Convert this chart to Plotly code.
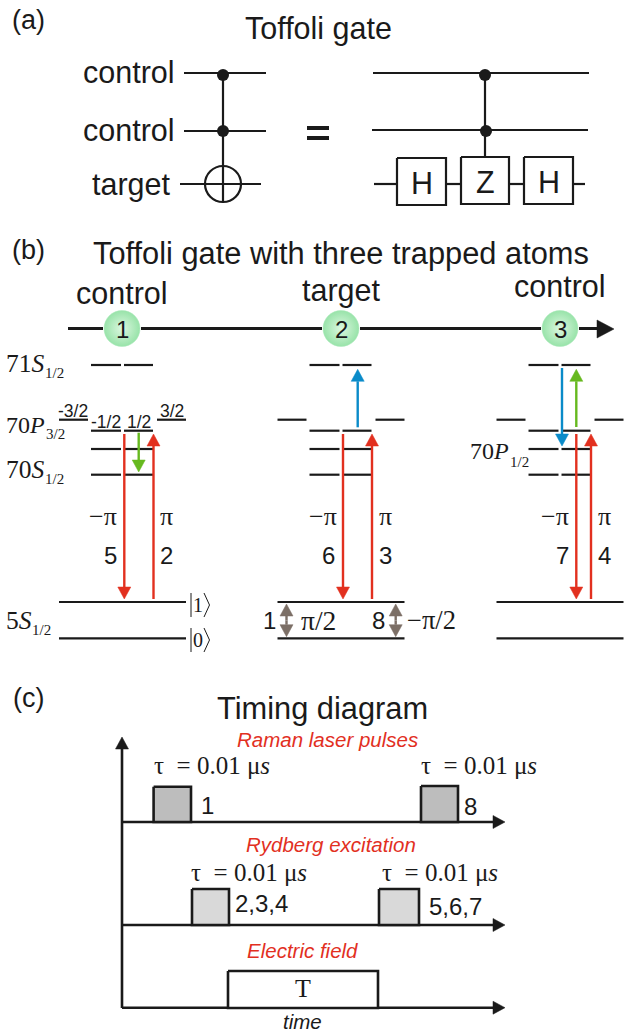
import plotly.graph_objects as go

W, H = 625, 1034
BLACK = "#1a1a1a"; RED = "#e2301f"; GREEN = "#66b91f"; BLUE = "#0a8bc9"; BROWN = "#7c6f66"
SANS = "Liberation Sans"; SERIF = "Liberation Serif"

# ---------- panel (a) ----------
circuit_lines = [  # x0, y0, x1, y1
    (184, 73, 266, 73), (184, 131, 266, 131), (180, 184, 261, 184),
    (223, 73, 223, 166), (223, 166, 223, 202), (205, 184, 241, 184),
    (373, 73, 589, 73), (372, 130, 588, 130), (485, 73, 485, 157),
    (374, 184, 397, 184), (446, 184, 461, 184), (509, 184, 524, 184), (573, 184, 585, 184),
]
equals_lines = [(307, 128, 329, 128), (307, 138, 329, 138)]
circuit_dots_x = [223, 223, 485, 486]
circuit_dots_y = [75, 131, 75, 131]
xor_circle = (223, 184, 18)
gate_boxes = [(397, 158, 446, 205), (461, 157, 509, 204), (524, 157, 573, 204)]
gate_labels = ["H", "Z", "H"]

# ---------- panel (b) ----------
atom_line_segments = [(68, 103), (141, 322), (360, 541), (579, 600)]
atom_line_y = 328.5
atom_arrow_tip = (614, 329)
atom_x = [122, 341, 560]
atom_labels = ["1", "2", "3"]
atom_offsets = [0, 218.5, 437.5]
inner_levels_y = [365, 430.7, 449, 474.7]
outer_level_y = 419.7
ground_levels_y = [602, 638.3]

red_down_x = [124.3, 343, 576.3]
red_up_x = [153.5, 372, 591]
red_top_y, red_bottom_y = 434, 599
green_arrows = [(138.7, 432.7, 472), (576.3, 427, 369.3)]  # x, start y, tip y
blue_arrows = [(357.7, 427.3, 369.3), (562, 368, 446)]
brown_x = [286.5, 395.7]
brown_y = (604, 636.7)

kets_y = [605, 640]
ket_digits = ["1", "0"]

# ---------- panel (c) ----------
time_axes_y = [822, 925, 1007.7]
time_axis_x0, time_axis_tip = 122, 505
value_axis_x, value_axis_bottom, value_axis_tip = 122, 1008, 737
pulses = [  # x0, y0, x1, y1
    (153.6, 786.7, 191, 822), (421, 786, 458, 822),
    (192, 889, 229, 925), (379, 889, 419, 925),
]
pulse_fill = ["#bdbdbd", "#bdbdbd", "#d9d9d9", "#d9d9d9"]
field_box = (228, 971, 378, 1008)

TAU = "τ\u00a0\u00a0= 0.01\u00a0μ<i>s</i>"

# text: string, x, y, size
sans_labels = [
    ("(a)", 28, 20, 27), ("Toffoli gate", 318, 28, 30.5),
    ("control", 129, 72, 30.5), ("control", 129, 130, 30.5), ("target", 131, 184, 30.5),
    ("(b)", 28, 250, 27), ("Toffoli gate with three trapped atoms", 341, 253, 30.8),
    ("control", 122, 293, 30.5), ("target", 341, 290, 30.5), ("control", 560, 286, 30.5),
    ("-3/2", 73, 411, 17.5), ("-1/2", 106, 422, 17.5), ("1/2", 139, 422, 17.5), ("3/2", 172, 411, 17.5),
    ("5", 110, 555, 24), ("2", 166, 555, 24), ("6", 328, 555, 24), ("3", 385, 555, 24),
    ("7", 562, 555, 24), ("4", 604, 555, 24), ("1", 269, 620, 24), ("8", 378, 620, 24),
    ("(c)", 28, 698, 27), ("Timing diagram", 322, 708, 30.8),
    ("1", 207, 805, 24), ("8", 470, 806, 24), ("2,3,4", 261, 903, 24), ("5,6,7", 455, 906, 24),
]
red_italic_labels = [
    ("Raman laser pulses", 327, 739, 20.5), ("Rydberg excitation", 331, 844, 20.5),
    ("Electric field", 302, 950, 20.5),
]
state_labels = [  # left-anchored state names and their subscripts
    ("71<i>S</i>", 4, 363, 25.5), ("70<i>P</i>", 4, 425, 24), ("70<i>S</i>", 4, 469, 25.5),
    ("5<i>S</i>", 4, 620, 25.5), ("70<i>P</i>", 468, 451, 24),
]
state_subscripts = [
    ("1/2", 43, 373, 15), ("3/2", 44, 434, 15), ("1/2", 43, 479, 15),
    ("1/2", 30, 630, 15), ("1/2", 508, 462, 15),
]
serif_labels = [
    ("−π", 103, 516, 26), ("π", 166, 516, 26), ("−π", 323, 516, 26), ("π", 385, 516, 26),
    ("−π", 555, 516, 26), ("π", 604, 516, 26),
    ("π/2", 318, 620, 27.5), ("−π/2", 431, 620, 26.5),
    (TAU, 212, 765, 25), (TAU, 479, 765, 25),
    (TAU, 249, 872, 25), (TAU, 440, 872, 25),
    ("T", 303, 988, 26),
]
time_label = ("time", 302, 1021, 20.5)

fig = go.Figure()


def add_lines(segs, color=BLACK, width=2.2):
    xs, ys = [], []
    for x0, y0, x1, y1 in segs:
        xs += [x0, x1, None]
        ys += [y0, y1, None]
    fig.add_trace(go.Scatter(x=xs, y=ys, mode="lines", hoverinfo="skip",
                             line=dict(color=color, width=width)))


def add_head(tip_x, tip_y, base_x, base_y, half, color):
    dx, dy = base_x - tip_x, base_y - tip_y
    n = (dx * dx + dy * dy) ** 0.5
    px, py = -dy / n * half, dx / n * half
    fig.add_trace(go.Scatter(x=[tip_x, base_x + px, base_x - px, tip_x],
                             y=[tip_y, base_y + py, base_y - py, tip_y],
                             mode="lines", fill="toself", fillcolor=color,
                             line=dict(color=color, width=0.5), hoverinfo="skip"))


def add_arrow(x0, y0, x1, y1, color, head=12, half=6.5, width=2.4):
    L = ((x1 - x0) ** 2 + (y1 - y0) ** 2) ** 0.5
    ux, uy = (x1 - x0) / L, (y1 - y0) / L
    bx, by = x1 - ux * head, y1 - uy * head
    add_lines([(x0, y0, bx, by)], color, width)
    add_head(x1, y1, bx, by, half, color)


def add_box(box, fill="white", color=BLACK, width=2.2):
    x0, y0, x1, y1 = box
    fig.add_trace(go.Scatter(x=[x0, x1, x1, x0, x0], y=[y0, y0, y1, y1, y0], mode="lines",
                             fill="toself", fillcolor=fill, hoverinfo="skip",
                             line=dict(color=color, width=width)))


def add_text(label, family, color=BLACK, anchor="center"):
    s, x, y, size = label
    fig.add_annotation(x=x, y=y, text=s, showarrow=False, xanchor=anchor, yanchor="middle",
                       font=dict(family=family, size=size, color=color))


# (a)
add_lines(circuit_lines)
add_lines(equals_lines, width=4)
fig.add_trace(go.Scatter(x=circuit_dots_x, y=circuit_dots_y, mode="markers", hoverinfo="skip",
                         marker=dict(color=BLACK, size=12, line_width=0)))
cx, cy, r = xor_circle
fig.add_shape(type="circle", x0=cx - r, x1=cx + r, y0=cy - r, y1=cy + r,
              line=dict(color=BLACK, width=2.2))
for box, s in zip(gate_boxes, gate_labels):
    add_box(box)
    add_text((s, (box[0] + box[2]) / 2, (box[1] + box[3]) / 2 + 1, 30.5), SANS)

# (b)
add_lines([(a, atom_line_y, b, atom_line_y) for a, b in atom_line_segments], width=3)
add_head(atom_arrow_tip[0], atom_arrow_tip[1], 597, atom_arrow_tip[1], 9, BLACK)
fig.add_trace(go.Scatter(x=atom_x, y=[atom_line_y] * 3, mode="markers", hoverinfo="skip",
                         marker=dict(size=36, color="#98e3a9",
                                     gradient=dict(type="radial", color="#dcf7e0"),
                                     line=dict(color="#a9e8b8", width=0.5))))
for x, s in zip(atom_x, atom_labels):
    add_text((s, x, atom_line_y + 0.5, 24), SANS)

level_segs = []
for off in atom_offsets:
    for y in inner_levels_y:
        level_segs += [(91 + off, y, 121 + off, y), (124 + off, y, 153 + off, y)]
    level_segs += [(59 + off, outer_level_y, 88 + off, outer_level_y),
                   (157 + off, outer_level_y, 186 + off, outer_level_y)]
    for y in ground_levels_y:
        level_segs.append((59 + off, y, 186 + off, y))
add_lines(level_segs)

for x in red_down_x:
    add_arrow(x, red_top_y, x, red_bottom_y, RED)
for x in red_up_x:
    add_arrow(x, red_bottom_y, x, red_top_y, RED)
for x, y0, y1 in green_arrows:
    add_arrow(x, y0, x, y1, GREEN)
for x, y0, y1 in blue_arrows:
    add_arrow(x, y0, x, y1, BLUE)
for x in brown_x:
    add_arrow(x, sum(brown_y) / 2, x, brown_y[0], BROWN, head=12, half=6.5, width=2.4)
    add_arrow(x, sum(brown_y) / 2, x, brown_y[1], BROWN, head=12, half=6.5, width=2.4)

ket_segs = []
for y in kets_y:
    ket_segs += [(191, y - 12, 191, y + 12), (204, y - 12, 209.5, y), (209.5, y, 204, y + 12)]
add_lines(ket_segs, width=1)
for y, s in zip(kets_y, ket_digits):
    add_text((s, 198, y, 20), SERIF)

# (c)
for y in time_axes_y:
    add_arrow(time_axis_x0, y, time_axis_tip, y, BLACK, head=12, half=6.5, width=2.6)
add_arrow(value_axis_x, value_axis_bottom, value_axis_x, value_axis_tip, BLACK, head=12, half=6.5, width=2.6)
for box, fill in zip(pulses, pulse_fill):
    add_box(box, fill, width=2.6)
add_box(field_box, "white", width=2.6)

for lab in sans_labels:
    add_text(lab, SANS)
for lab in red_italic_labels:
    add_text(("<i>" + lab[0] + "</i>", lab[1], lab[2], lab[3]), SANS, RED)
for lab in state_labels + state_subscripts:
    add_text(lab, SERIF, anchor="left")
for lab in serif_labels:
    add_text(lab, SERIF)
add_text(("<i>" + time_label[0] + "</i>", time_label[1], time_label[2], time_label[3]), SANS)

fig.update_layout(
    width=W, height=H, margin=dict(l=0, r=0, t=0, b=0), showlegend=False,
    paper_bgcolor="white", plot_bgcolor="white",
    xaxis=dict(range=[0, W], visible=False, fixedrange=True),
    yaxis=dict(range=[H, 0], visible=False, fixedrange=True),
)
fig.write_html("out.html", config=dict(displayModeBar=False),
               post_script="document.body.style.margin='0';document.documentElement.style.overflow='hidden';")
